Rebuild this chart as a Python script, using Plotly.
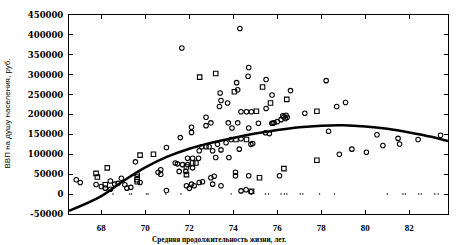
import plotly.graph_objects as go

# Scatter points: open circles
circle_x = [66.86, 67.04, 67.76, 68.0, 68.18, 68.41, 68.41, 68.61, 68.76, 68.91, 69.07, 69.16, 69.34,
            69.55, 69.63, 69.76, 70.58, 70.7, 70.7,
            73.44, 73.74, 73.37, 74.35, 74.6, 74.82, 72.76, 72.98, 72.76, 73.77, 74.2, 73.94, 74.7,
            72.1, 72.1, 71.59, 70.96, 72.57, 72.76, 72.9, 73.06, 72.45, 73.28, 73.44, 73.67,
            73.9, 74.35, 74.8, 74.27, 73.8, 73.2, 71.92, 72.15, 72.42, 71.36, 71.46, 71.69, 71.92,
            72.15, 71.54, 71.84, 74.1, 74.1, 74.7, 72.98, 73.13, 72.45, 72.6, 72.22, 71.87, 72.0,
            72.1, 73.06, 73.44, 70.96, 74.35, 74.58, 74.8,
            75.49, 76.6, 75.76, 78.22, 75.49, 76.25, 76.4, 76.37, 76.3, 76.45, 76.0, 76.17,
            75.75, 75.8, 75.85, 75.14, 77.25, 78.7, 79.1, 75.46, 75.64, 74.88, 78.33, 78.82, 76.1,
            80.53, 81.49, 81.56, 79.39, 80.05, 80.8, 82.4, 83.42,
            74.3, 71.66, 74.7, 74.67, 74.15, 73.4, 74.2]
circle_y = [36000, 29000, 24000, 19000, 15000, 33000, 12000, 25000, 27000, 40000, 23500, 15000, 17000,
            81000, 50000, 29000, 55000, 61000, 50000,
            235000, 229000, 220000, 207000, 207000, 207000, 193000, 179000, 172000, 179000, 179000, 166000, 166000,
            168000, 155000, 142000, 117000, 119000, 119000, 119000, 109000, 109000, 125000, 111000, 129000,
            137000, 139000, 125000, 113000, 92000, 92000, 90000, 90000, 90000, 78000, 76000, 74000, 74000,
            66000, 57000, 57000, 55000, 46000, 46000, 41000, 45000, 29000, 31000, 21000, 21000, 14500,
            25000, 25000, 21000, 9000, 8000, 11000, 6000,
            288000, 260000, 249000, 285000, 215000, 197000, 198000, 190000, 194000, 193000, 182000, 187000,
            178000, 178000, 179000, 178000, 203000, 220000, 230000, 154000, 152000, 127000, 158000, 100000, 46000,
            149000, 140000, 126000, 113000, 105000, 122000, 137000, 148000,
            416000, 367000, 318000, 296000, 280000, 254000, 262000]

# Scatter points: open squares
square_x = [67.76, 67.82, 68.27, 68.18, 69.76, 70.37, 69.63, 69.63, 69.63,
            75.05, 74.12, 74.6, 72.15, 72.3, 71.87, 71.87,
            75.33, 76.43, 75.69, 77.8, 77.8, 76.3, 75.19, 74.83,
            72.47, 73.2, 74.05]
square_y = [52000, 43000, 66000, 23500, 98000, 100000, 43000, 36000, 31000,
            208000, 137000, 137000, 78000, 78000, 68000, 49000,
            269000, 238000, 229000, 208000, 85000, 64000, 41000, 7000,
            294000, 303000, 257000]

# Small dots near zero
dot_x = [68.53, 69.29, 69.37, 70.05, 70.13, 70.93, 71.62, 73.9, 74.83, 75.46, 75.6, 76.17, 76.32,
         76.43, 77.04, 77.16, 77.92, 78.6, 81.0, 81.71, 81.82, 82.43, 82.55, 83.16, 83.31]
dot_y = [0] * len(dot_x)

# Trend curve
trend_x = [66.53, 68, 69, 70, 71, 72, 73, 74, 75, 76, 77, 78, 79, 80, 81, 82, 83, 83.76]
trend_y = [-42000, -5000, 33000, 67000, 94000, 114000, 129000, 141000, 152000, 161000, 168000,
           172000, 173000, 170000, 164000, 155000, 144000, 133000]

x_ticks = [68, 70, 72, 74, 76, 78, 80, 82]
y_ticks = [-50000, 0, 50000, 100000, 150000, 200000, 250000, 300000, 350000, 400000, 450000]
y_tick_labels = ["-50000", "0", "50000", "100000", "150000", "200000", "250000", "300000",
                 "350000", "400000", "450000"]

x_title = "Средняя продолжительность жизни, лет."
y_title = "ВВП на душу населения, руб."

fig = go.Figure()
fig.add_trace(go.Scatter(x=dot_x, y=dot_y, mode="markers",
                         marker=dict(symbol="circle", size=1.5, color="black"), hoverinfo="skip"))
fig.add_trace(go.Scatter(x=circle_x, y=circle_y, mode="markers",
                         marker=dict(symbol="circle-open", size=4.5, color="black", line=dict(width=1.1))))
fig.add_trace(go.Scatter(x=square_x, y=square_y, mode="markers",
                         marker=dict(symbol="square-open", size=4.5, color="black", line=dict(width=1.1))))
fig.add_trace(go.Scatter(x=trend_x, y=trend_y, mode="lines", line_shape="spline",
                         line=dict(color="black", width=2.5)))

axis_common = dict(showline=True, linecolor="black", linewidth=1, mirror="ticks",
                   ticks="inside", ticklen=4, tickcolor="black", tickwidth=1,
                   showgrid=False, zeroline=False)

fig.update_layout(
    width=459, height=245,
    margin=dict(l=69, r=11, t=10, b=31),
    paper_bgcolor="white", plot_bgcolor="white",
    showlegend=False,
    xaxis=dict(range=[66.53, 83.76], tickvals=x_ticks,
               tickfont=dict(family="Liberation Serif", size=9, color="black", weight="bold"),
               ticklabelstandoff=5,
               **axis_common),
    yaxis=dict(range=[-50000, 450000], tickvals=y_ticks, ticktext=y_tick_labels,
               tickfont=dict(family="DejaVu Serif", size=8.5, color="black", weight="bold"),
               ticklabelstandoff=3,
               **axis_common),
    annotations=[
        dict(text=x_title, xref="paper", yref="paper", x=0.397, y=-0.127,
             xanchor="center", yanchor="middle", showarrow=False,
             font=dict(family="Liberation Serif", size=7.3, color="black", weight="bold")),
        dict(text=y_title, xref="paper", yref="paper", x=-0.161, y=0.505,
             xanchor="center", yanchor="middle", showarrow=False, textangle=-90,
             font=dict(family="Liberation Sans", size=8, color="black")),
    ],
)

fig.write_html("out.html", config={"displayModeBar": False},
               post_script="document.body.style.margin='0';document.body.style.padding='0';")
